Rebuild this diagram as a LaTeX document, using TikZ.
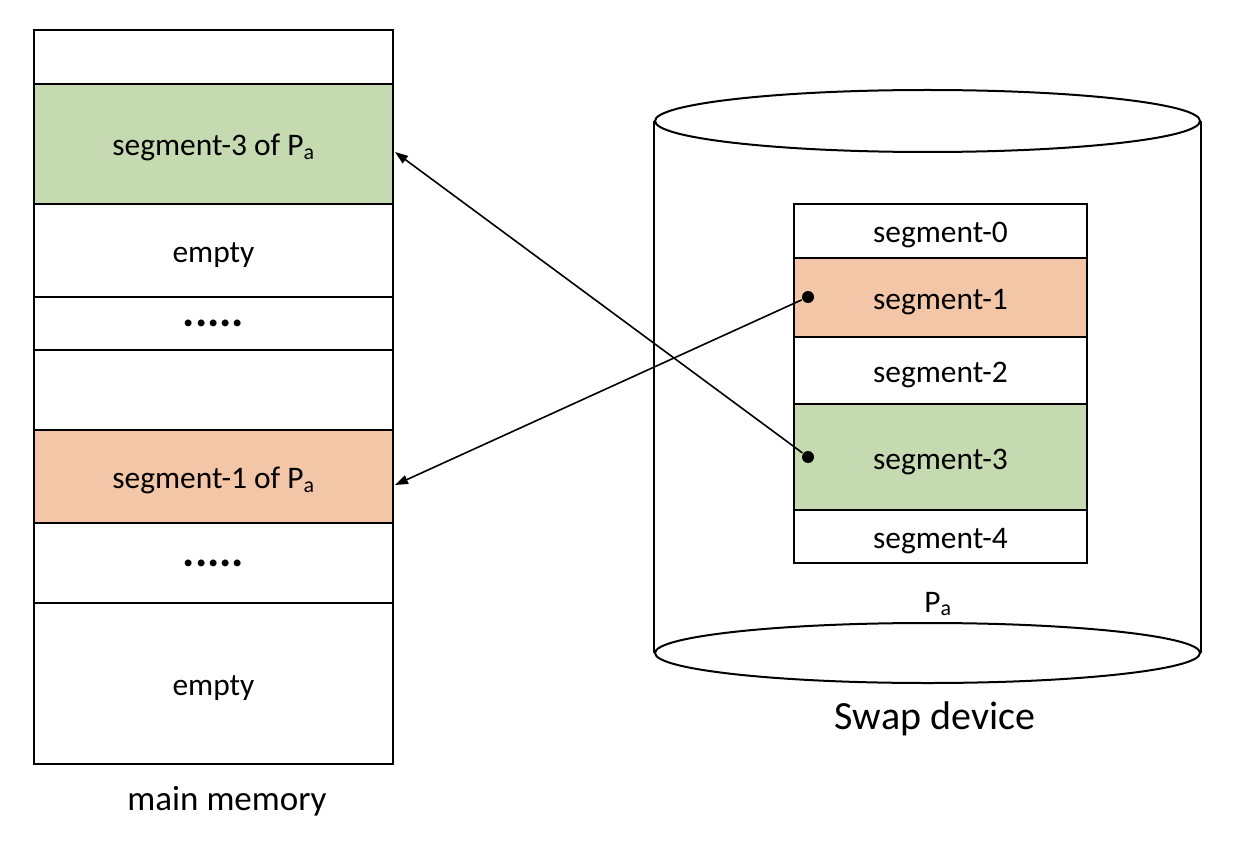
\documentclass[tikz,border=0pt]{standalone}
\usepackage{fontspec}
\setmainfont{Carlito}
\usetikzlibrary{arrows.meta,shapes.geometric}
\definecolor{seggreen}{RGB}{197,218,176}
\definecolor{segorange}{RGB}{243,198,167}
\begin{document}
\begin{tikzpicture}[x=1pt,y=-1pt,line width=2pt,
    cell/.style={draw,rectangle,inner sep=0pt,text height=28pt,text depth=4pt,font=\fontsize{31.4}{36}\selectfont},
    memcell/.style={cell,minimum width=359pt},
    swapcell/.style={cell,minimum width=293pt},
    dotrow/.style={text height=6pt,text depth=0pt,font=\fontsize{46}{50}\bfseries},
    dotnode/.style={fill=black,circle,inner sep=0pt,minimum size=12pt},
    every fit/.style={ellipse,draw}]
    \tikzstyle{label}=[font=\fontsize{35}{40}\selectfont]
    \tikzstyle{moves}=[line width=1.6pt,-{Triangle[length=13pt,width=9pt]}]
    \useasboundingbox (0,0) rectangle (1238,842);

    % main memory
    \node[memcell, minimum height=54pt] (m0) at (213.5,57) {};
    \node[memcell, minimum height=120pt, fill=seggreen] (m1) at (213.5,144) {segment-3 of P\textsubscript{a}};
    \node[memcell, minimum height=93pt] (m2) at (213.5,250.5) {empty};
    \node[memcell, minimum height=53pt, dotrow] (m3) at (213.5,323.5) {.....};
    \node[memcell, minimum height=80pt] (m4) at (213.5,390) {};
    \node[memcell, minimum height=93pt, fill=segorange] (m5) at (213.5,476.5) {segment-1 of P\textsubscript{a}};
    \node[memcell, minimum height=80pt, dotrow] (m6) at (213.5,563) {.....};
    \node[memcell, minimum height=161pt] (m7) at (213.5,683.5) {empty};
    \node[label] (memname) at (227,801) {main memory};

    % swap device
    \node[ellipse, draw, minimum width=545pt, minimum height=62pt] (top) at (927.5,121) {};
    \node[ellipse, draw, minimum width=545pt, minimum height=60pt] (bottom) at (927.5,653) {};
    \draw (top.west) -- (bottom.west);
    \draw (top.east) -- (bottom.east);
    \node[label, font=\fontsize{40}{44}\selectfont] (swapname) at (935,719) {Swap device};

    \node[swapcell, minimum height=54pt] (s0) at (940.5,231) {segment-0};
    \node[swapcell, minimum height=79pt, fill=segorange] (s1) at (940.5,297.5) {segment-1};
    \node[swapcell, minimum height=67pt] (s2) at (940.5,370.5) {segment-2};
    \node[swapcell, minimum height=106pt, fill=seggreen] (s3) at (940.5,457) {segment-3};
    \node[swapcell, minimum height=53pt] (s4) at (940.5,536.5) {segment-4};
    \node[font=\fontsize{31.4}{36}\selectfont] (pa) at (938,604) {P\textsubscript{a}};

    % moves
    \node[dotnode] (d1) at (808,297) {};
    \node[dotnode] (d3) at (808,457) {};
    \coordinate (in1) at (395,485);
    \coordinate (in3) at (395,152);
    \draw[moves] (d1) -- (in1);
    \draw[moves] (d3) -- (in3);

\end{tikzpicture}
\end{document}
